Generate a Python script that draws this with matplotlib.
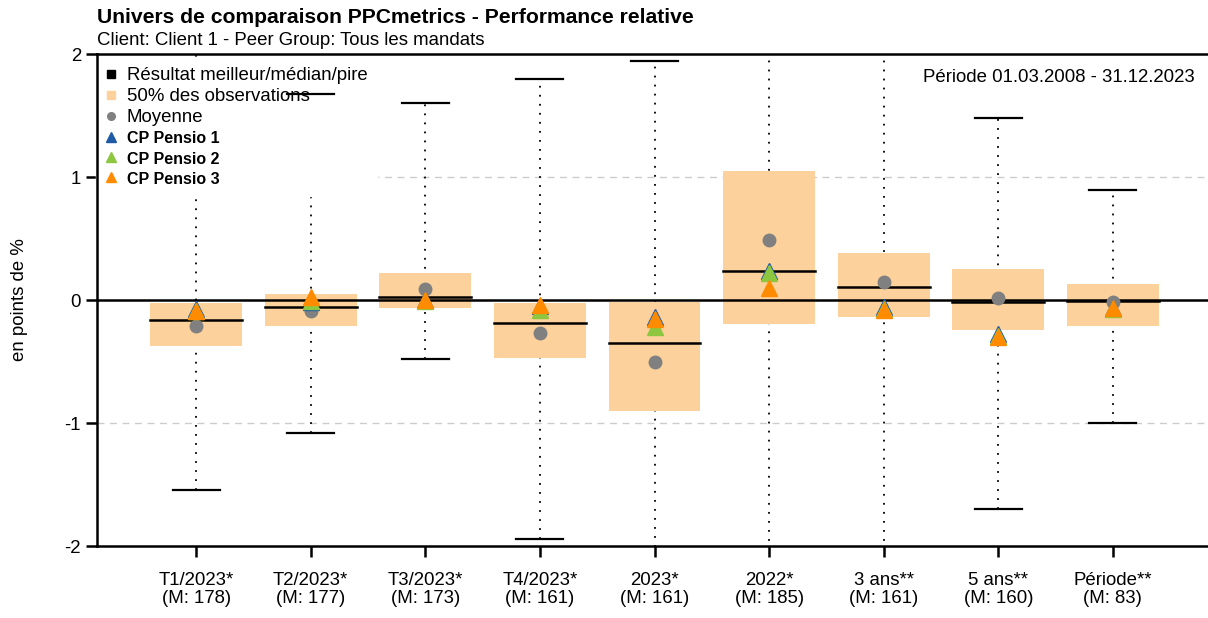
import matplotlib
matplotlib.use("Agg")
import matplotlib.pyplot as plt
from matplotlib.lines import Line2D
import numpy as np

plt.rcParams['font.family'] = ['Liberation Sans', 'DejaVu Sans']

#Data
categories = ["T1/2023*", "T2/2023*", "T3/2023*", "T4/2023*", "2023*", "2022*", "3 ans**", "5 ans**", "Période**"]
counts = [178, 177, 173, 161, 161, 185, 161, 160, 83]
best = [2.3, 1.675, 1.6, 1.8, 1.94, 2.4, 2.4, 1.48, 0.895]
worst = [-1.545, -1.08, -0.48, -1.94, -2.3, -2.4, -2.4, -1.7, -1.0]
q_high = [-0.024, 0.05, 0.22, -0.024, -0.015, 1.05, 0.38, 0.25, 0.13]
q_low = [-0.374, -0.21, -0.065, -0.47, -0.9, -0.195, -0.14, -0.245, -0.21]
median = [-0.163, -0.057, 0.025, -0.187, -0.35, 0.236, 0.106, -0.016, -0.008]
mean = [-0.21, -0.09, 0.09, -0.27, -0.5, 0.49, 0.15, 0.016, -0.02]
cp1 = [-0.07, -0.015, 0.0, -0.05, -0.14, 0.236, -0.06, -0.28, -0.065]
cp2 = [-0.09, -0.01, -0.01, -0.08, -0.22, 0.22, -0.07, -0.29, -0.07]
cp3 = [-0.09, 0.025, 0.0, -0.04, -0.155, 0.1, -0.08, -0.3, -0.065]

box_color = "#FDD19B"
blue = "#1F5AA6"
green = "#8DC63F"
orange = "#FF8C00"

fig = plt.figure(figsize=(12.08, 6.18), dpi=100)
ax = fig.add_axes([0.0803, 0.1165, 0.9197, 0.7961])

x = np.arange(len(categories))
w = 0.8
cw = 0.41

#whiskers
for i in x:
    ax.plot([i, i], [worst[i], best[i]], color="black", lw=1.3, ls=(0, (1, 4)), zorder=0.5)
    ax.plot([i - cw / 2, i + cw / 2], [best[i], best[i]], color="black", lw=1.6, zorder=6)
    ax.plot([i - cw / 2, i + cw / 2], [worst[i], worst[i]], color="black", lw=1.6, zorder=6)

#boxes
ax.bar(x, np.array(q_high) - np.array(q_low), bottom=q_low, width=w, color=box_color, zorder=1)
for i in x:
    ax.plot([i - w / 2, i + w / 2], [median[i], median[i]], color="black", lw=1.8, zorder=2)

ax.axhline(0, color="black", lw=1.8, zorder=2.5)
for yv in [-1, 1]:
    ax.axhline(yv, color="#CCCCCC", lw=1, ls=(0, (5, 4)), zorder=0)

ax.plot(x, mean, "o", color="#808080", ms=9, zorder=3)
ax.plot(x, cp1, "^", color=blue, mec=blue, ms=12, zorder=3.5)
ax.plot(x, cp2, "^", color=green, mec=green, ms=11, zorder=3.6)
ax.plot(x, cp3, "^", color=orange, mec=orange, ms=11, zorder=3.7)

ax.set_xlim(-0.865, 8.83)
ax.set_ylim(-2, 2)
ax.set_yticks([-2, -1, 0, 1, 2])
ax.set_yticklabels(["-2", "-1", "0", "1", "2"])
ax.set_xticks(x)
ax.set_xticklabels([c + "\n(M: " + str(n) + ")" for c, n in zip(categories, counts)], linespacing=1.05)
ax.tick_params(axis="both", labelsize=13.4, length=8, width=1.8, direction="out")
ax.tick_params(axis="x", pad=11)
ax.spines["right"].set_visible(False)
for s in ["left", "bottom", "top"]:
    ax.spines[s].set_linewidth(1.8)
    ax.spines[s].set_zorder(4)
ax.set_ylabel("en points de %", fontsize=13.4, labelpad=26)

#legend
handles = [
    Line2D([], [], marker="s", color="black", ls="none", ms=5.5),
    Line2D([], [], marker="s", color=box_color, ls="none", ms=5.5),
    Line2D([], [], marker="o", color="#808080", ls="none", ms=5.5),
    Line2D([], [], marker="^", color=blue, ls="none", ms=7),
    Line2D([], [], marker="^", color=green, ls="none", ms=7),
    Line2D([], [], marker="^", color=orange, ls="none", ms=7),
]
labels = ["Résultat meilleur/médian/pire", "50% des observations", "Moyenne",
          "CP Pensio 1", "CP Pensio 2", "CP Pensio 3"]
leg = ax.legend(handles, labels, loc="upper left", bbox_to_anchor=(-0.004, 1.0), frameon=True,
                fontsize=13.4, handlelength=0.6, handletextpad=0.55, labelspacing=0.22,
                borderpad=0.5, borderaxespad=0.2, fancybox=False)
leg.get_frame().set_edgecolor("white")
leg.get_frame().set_facecolor("white")
leg.get_frame().set_alpha(1)
leg.set_zorder(2)
for t in leg.get_texts()[3:]:
    t.set_fontweight("bold")
    t.set_fontsize(11.5)

ax.text(0.988, 0.953, "Période 01.03.2008 - 31.12.2023", transform=ax.transAxes,
        ha="right", va="center", fontsize=13.4, zorder=7)

fig.text(0.0803, 0.971, "Univers de comparaison PPCmetrics - Performance relative",
         fontsize=15.2, fontweight="bold", ha="left", va="center")
fig.text(0.0803, 0.935, "Client: Client 1 - Peer Group: Tous les mandats",
         fontsize=13.4, ha="left", va="center")

fig.savefig("out.png", dpi=100)
